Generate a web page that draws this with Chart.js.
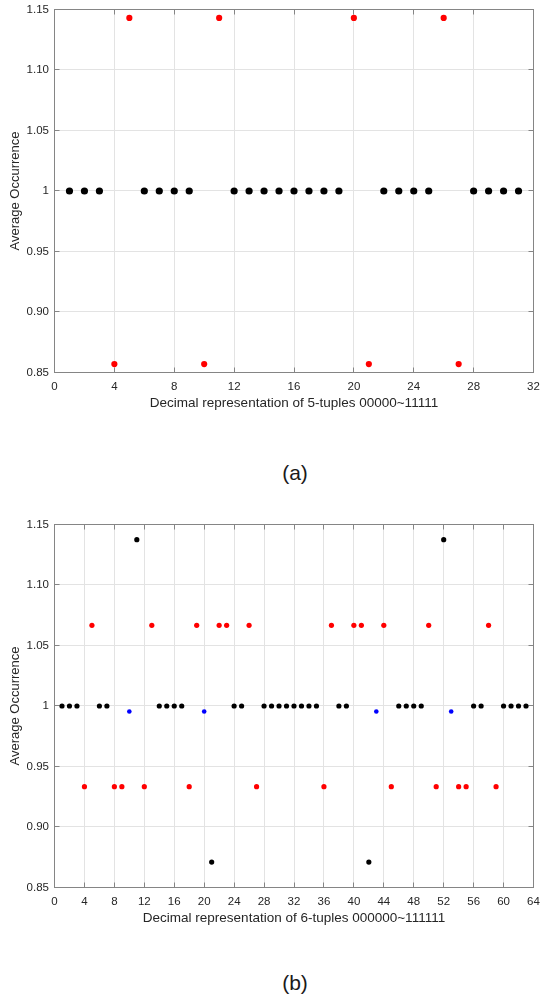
<!DOCTYPE html>
<html>
<head>
<meta charset="utf-8">
<script src="https://cdn.jsdelivr.net/npm/chart.js@4.4.1/dist/chart.umd.min.js"></script>
<style>
  body { margin: 0; background: #fff; width: 540px; height: 1002px; position: relative; overflow: hidden;
         font-family: "Liberation Sans", Arial, Helvetica, sans-serif; }
  .panel { position: absolute; left: 0; width: 540px; height: 415px; }
  .panel canvas { display: block; }
  .cap { position: absolute; left: 245px; width: 100px; text-align: center;
         font-size: 21px; line-height: 21px; color: #1a1a1a; }
</style>
</head>
<body>
<div class="panel" style="top:0"><canvas id="chartA" width="540" height="415"></canvas></div>
<div class="cap" style="top:462px">(a)</div>
<div class="panel" style="top:515px"><canvas id="chartB" width="540" height="415"></canvas></div>
<div class="cap" style="top:972px">(b)</div>

<script>
// ── DATA ──
// (a) 5-tuples
const tuplesA = [1,2,3,4,5,6,7,8,9,10,11,12,13,14,15,16,17,18,19,20,21,22,23,24,25,26,27,28,29,30,31];
const occurrenceA = [
  1, 1, 1, 0.857, 1.143, 1, 1, 1, 1, 0.857, 1.143, 1, 1, 1, 1, 1,
  1, 1, 1, 1.143, 0.857, 1, 1, 1, 1, 1.143, 0.857, 1, 1, 1, 1
];
const redA = [4, 5, 10, 11, 20, 21, 26, 27];

// (b) 6-tuples
const tuplesB = [1,2,3,4,5,6,7,8,9,10,11,12,13,14,15,16,17,18,19,20,21,22,23,24,25,26,27,28,29,30,31,32,
                 33,34,35,36,37,38,39,40,41,42,43,44,45,46,47,48,49,50,51,52,53,54,55,56,57,58,59,60,61,62,63];
const occurrenceB = [
  1, 1, 1, 0.9333, 1.0667, 1, 1, 0.9333, 0.9333, 0.9955, 1.1375, 0.9333, 1.0667, 1, 1, 1,
  1, 0.9333, 1.0667, 0.9955, 0.871, 1.0667, 1.0667, 1, 1, 1.0667, 0.9333, 1, 1, 1, 1, 1,
  1, 1, 1, 0.9333, 1.0667, 1, 1, 1.0667, 1.0667, 0.871, 0.9955, 1.0667, 0.9333, 1, 1, 1,
  1, 1.0667, 0.9333, 1.1375, 0.9955, 0.9333, 0.9333, 1, 1, 1.0667, 0.9333, 1, 1, 1, 1
];
const redB = [4,5,8,9,12,13,18,19,22,23,26,27,36,37,40,41,44,45,50,51,54,55,58,59];
const blueB = [10, 20, 43, 53];

// ticks
const xTicksA = [0, 4, 8, 12, 16, 20, 24, 28, 32];
const xTicksB = [0, 4, 8, 12, 16, 20, 24, 28, 32, 36, 40, 44, 48, 52, 56, 60, 64];
const yTicks = [0.85, 0.90, 0.95, 1, 1.05, 1.10, 1.15];
const yTickLabels = ['0.85', '0.90', '0.95', '1', '1.05', '1.10', '1.15'];

// ── HELPERS ──
const FONT = '"Liberation Sans", Arial, Helvetica, sans-serif';
const TXT = '#262626';

function pick(xs, ys, keep) {
  return xs.map((x, i) => ({ x: x, y: ys[i] })).filter(p => keep(p.x));
}

function crisp(v) { return Math.round(v + 0.5) - 0.5; }

// box + inward ticks like matlab axes
const boxPlugin = {
  id: 'box',
  beforeDatasetsDraw(chart) {
    const { ctx, chartArea: a, scales } = chart;
    ctx.save();
    ctx.strokeStyle = '#858585';
    ctx.lineWidth = 1;
    ctx.strokeRect(a.left, a.top, a.right - a.left, a.bottom - a.top);
    ctx.beginPath();
    scales.x.ticks.forEach(t => {
      const px = crisp(scales.x.getPixelForValue(t.value));
      ctx.moveTo(px, a.bottom); ctx.lineTo(px, a.bottom - 5);
      ctx.moveTo(px, a.top);    ctx.lineTo(px, a.top + 5);
    });
    scales.y.ticks.forEach(t => {
      const py = crisp(scales.y.getPixelForValue(t.value));
      ctx.moveTo(a.left, py);  ctx.lineTo(a.left + 5, py);
      ctx.moveTo(a.right, py); ctx.lineTo(a.right - 5, py);
    });
    ctx.stroke();
    ctx.restore();
  }
};

function makeChart(id, datasets, xTicks, xTitle) {
  return new Chart(document.getElementById(id), {
    type: 'scatter',
    data: { datasets: datasets },
    options: {
      responsive: false,
      animation: false,
      devicePixelRatio: 1,
      layout: { padding: { top: 9.5, right: 6.5, left: 0, bottom: 0 } },
      plugins: { legend: { display: false }, tooltip: { enabled: false } },
      scales: {
        x: {
          type: 'linear',
          min: xTicks[0], max: xTicks[xTicks.length - 1],
          afterBuildTicks: s => { s.ticks = xTicks.map(v => ({ value: v })); },
          afterFit: s => { s.height = 42.5; s.paddingLeft = 0; s.paddingRight = 0; },
          ticks: { color: TXT, font: { family: FONT, size: 11.5 }, padding: 7, maxRotation: 0, autoSkip: false },
          grid: { color: '#e3e3e3', drawTicks: false },
          border: { display: false },
          title: { display: true, text: xTitle, color: TXT, font: { family: FONT, size: 13.5 },
                   padding: { top: 0, bottom: 3.5 } }
        },
        y: {
          type: 'linear',
          min: 0.85, max: 1.15,
          afterBuildTicks: s => { s.ticks = yTicks.map(v => ({ value: v })); },
          afterFit: s => { s.width = 54.5; s.paddingTop = 0; s.paddingBottom = 0; },
          ticks: {
            color: TXT, font: { family: FONT, size: 11.5 }, padding: 5.5,
            callback: (v, i) => yTickLabels[i]
          },
          grid: { color: '#e3e3e3', drawTicks: false },
          border: { display: false },
          title: { display: true, text: 'Average Occurrence', color: TXT, font: { family: FONT, size: 13 },
                   padding: { top: 7.2, bottom: 0 } }
        }
      }
    },
    plugins: [boxPlugin]
  });
}

// ── CHART (a) ──
makeChart('chartA', [
  { data: pick(tuplesA, occurrenceA, x => !redA.includes(x)),
    backgroundColor: '#000', borderWidth: 0, pointRadius: 3.6 },
  { data: pick(tuplesA, occurrenceA, x => redA.includes(x)),
    backgroundColor: '#ff0000', borderWidth: 0, pointRadius: 3.1 }
], xTicksA, 'Decimal representation of 5-tuples 00000~11111');

// ── CHART (b) ──
makeChart('chartB', [
  { data: pick(tuplesB, occurrenceB, x => !redB.includes(x) && !blueB.includes(x)),
    backgroundColor: '#000', borderWidth: 0, pointRadius: 2.6 },
  { data: pick(tuplesB, occurrenceB, x => redB.includes(x)),
    backgroundColor: '#ff0000', borderWidth: 0, pointRadius: 2.6 },
  { data: pick(tuplesB, occurrenceB, x => blueB.includes(x)),
    backgroundColor: '#0000ff', borderWidth: 0, pointRadius: 2.3 }
], xTicksB, 'Decimal representation of 6-tuples 000000~111111');
</script>
</body>
</html>
